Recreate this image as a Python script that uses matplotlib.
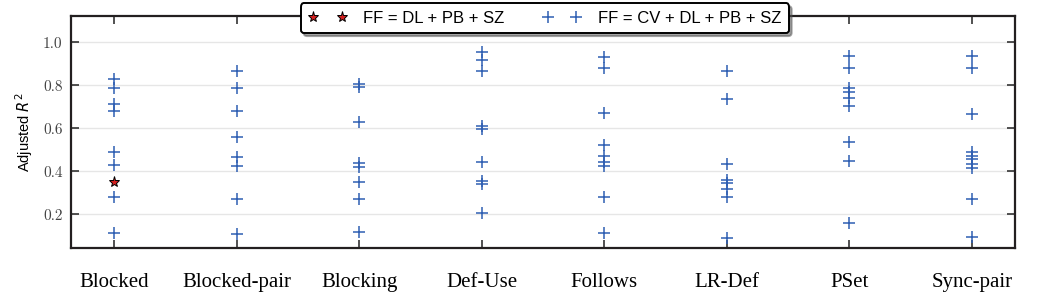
import matplotlib
matplotlib.use("Agg")
import matplotlib.pyplot as plt
import numpy as np

categories = ["Blocked", "Blocked-pair", "Blocking", "Def-Use", "Follows",
              "LR-Def", "PSet", "Sync-pair"]

# adjusted R^2 of every model FF = CV + DL + PB + SZ, per category
cv_models = [
    [0.829, 0.789, 0.713, 0.680, 0.488, 0.429, 0.280, 0.112],
    [0.865, 0.787, 0.680, 0.557, 0.468, 0.424, 0.271, 0.107],
    [0.806, 0.791, 0.628, 0.437, 0.421, 0.352, 0.273, 0.119],
    [0.956, 0.918, 0.867, 0.611, 0.597, 0.442, 0.355, 0.341, 0.207],
    [0.933, 0.879, 0.670, 0.522, 0.471, 0.445, 0.425, 0.282, 0.112],
    [0.865, 0.736, 0.434, 0.360, 0.347, 0.316, 0.282, 0.088],
    [0.938, 0.879, 0.787, 0.769, 0.740, 0.704, 0.535, 0.447, 0.161],
    [0.936, 0.882, 0.667, 0.491, 0.473, 0.456, 0.434, 0.417, 0.273, 0.096],
]

# FF = DL + PB + SZ (only one category has it)
base_cats = ["Blocked"]
base_vals = [0.352]

lab_base = "FF = DL + PB + SZ"
lab_cv = "FF = CV + DL + PB + SZ"

fig = plt.figure(figsize=(10.37, 3.05), dpi=100)
ax = fig.add_axes([71 / 1037, 1 - 248 / 305, (1015 - 71) / 1037, (248 - 16) / 305])

xs, ys = [], []
for i, vals in enumerate(cv_models):
    xs += [i + 1] * len(vals)
    ys += vals
ax.plot(xs, ys, ls="none", marker="+", ms=8, mew=1.1, color="#2f5fb3", label=lab_cv, zorder=3)

bx = [categories.index(c) + 1 for c in base_cats]
ax.plot(bx, base_vals, ls="none", marker="*", ms=8, mew=0.7, mfc="#d42020", mec="black",
        label=lab_base, zorder=4)

ax.set_xlim(0.647, 8.353)
ax.set_ylim(0.043, 1.122)
ax.set_yticks([0.2, 0.4, 0.6, 0.8, 1.0])
ax.set_xticks(np.arange(1, len(categories) + 1))
ax.set_xticklabels(categories, fontfamily="Liberation Serif", fontsize=15)
for t in ax.get_yticklabels():
    t.set_fontfamily("cmr10")
    t.set_fontsize(11)
    t.set_color("#444444")
ax.tick_params(axis="x", direction="in", top=True, length=6, width=1.2, pad=18, color="#333333")
ax.tick_params(axis="y", direction="in", right=True, length=6, width=1.2, pad=6, color="#333333")
ax.yaxis.grid(True, color="#e6e6e6", lw=1)
ax.set_axisbelow(True)
for s in ax.spines.values():
    s.set_linewidth(1.6)
    s.set_color("#231f20")

ax.set_ylabel("Adjusted $R^2$", fontsize=10.5, fontfamily="Liberation Sans", labelpad=6)

h, l = ax.get_legend_handles_labels()
leg = ax.legend(h[::-1], l[::-1], loc="center", bbox_to_anchor=(0.502, 0.99), ncol=2,
                numpoints=2, fancybox=True, shadow=True, framealpha=1, edgecolor="black",
                prop={"family": "Liberation Sans", "size": 12}, columnspacing=2.3,
                handlelength=2.3, handletextpad=1.0, borderpad=0.45, borderaxespad=0)
leg.get_frame().set_linewidth(1.4)

fig.savefig("out.png", dpi=100)
